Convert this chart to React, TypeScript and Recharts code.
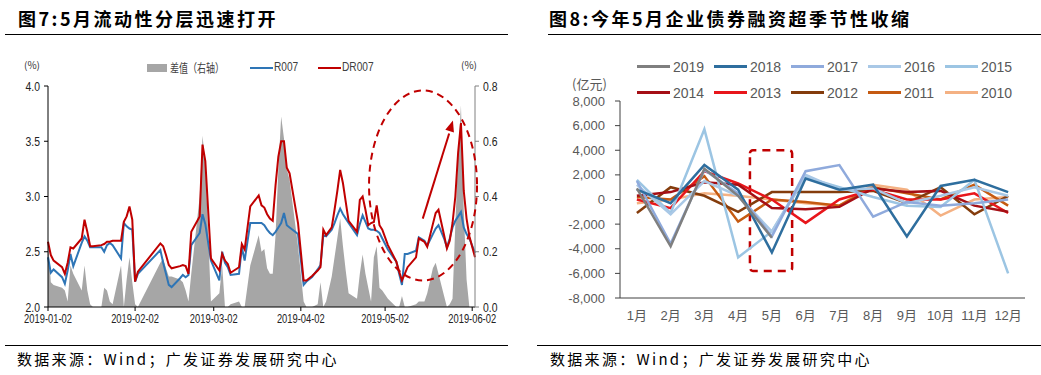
import React from 'react'
import {
  ComposedChart, LineChart, Line, Area, XAxis, YAxis,
  ReferenceDot, ReferenceLine, ReferenceArea,
} from 'recharts'

// ---------- 图7: 日度数据, x = 距 2019-01-02 的天数 ----------
const dayOffsets = [
  0, 1, 2, 5, 6, 7, 8, 9, 12, 13, 14, 15, 16, 19, 20, 21, 22, 23, 26, 27, 28, 29, 30, 31, 32,
  40, 41, 42, 43, 44, 47, 48, 49, 50, 51, 54, 55, 56, 58, 61, 62, 63, 64, 65, 68, 69, 70, 72,
  75, 76, 77, 78, 79, 80, 81, 82, 83, 84, 85, 86, 89, 91, 92, 94, 96, 97, 98, 99, 101, 102,
  103, 104, 105, 106, 107, 110, 111, 112, 113, 114, 115, 116, 117, 118, 119, 121, 124, 125,
  126, 127, 128, 131, 132, 134, 135, 137, 138, 139, 141, 142, 143, 144, 145, 146, 147, 148,
  149, 150, 152,
]
const dr007 = [
  2.59, 2.47, 2.42, 2.36, 2.30, 2.40, 2.54, 2.53, 2.62, 2.79, 2.68, 2.55, 2.55, 2.56, 2.57, 2.59, 2.59, 2.60, 2.60, 2.77, 2.82, 2.91, 2.79, 2.23, 2.32,
  2.575, 2.55, 2.47, 2.38, 2.35, 2.37, 2.38, 2.37, 2.30, 2.68, 2.82, 3.47, 3.32, 2.44, 2.33, 2.48, 2.42, 2.39, 2.31, 2.36, 2.57, 2.52, 2.91,
  3.01, 2.92, 2.90, 2.84, 2.80, 2.78, 3.10, 3.36, 3.50, 3.50, 3.26, 3.21, 2.76, 2.24, 2.24, 2.28, 2.33, 2.36, 2.70, 2.65, 2.72, 2.88,
  3.05, 3.24, 3.12, 2.95, 2.78, 2.68, 2.97, 3.00, 2.88, 2.74, 2.76, 2.77, 2.92, 2.74, 2.70, 2.56, 2.41, 2.32,
  2.24, 2.30, 2.36, 2.45, 2.62, 2.59, 2.545, 2.75, 2.85, 2.88, 2.65, 2.53, 2.60, 2.76, 3.00, 3.40, 3.665, 3.05,
  2.80, 2.64, 2.45,
]
const r007 = [
  2.45, 2.31, 2.34, 2.27, 2.21, 2.33, 2.48, 2.37, 2.58, 2.64, 2.60, 2.54, 2.54, 2.54, 2.50, 2.56, 2.58, 2.56, 2.44, 2.76, 2.73, 2.71, 2.70, 2.23, 2.30,
  2.515, 2.40, 2.30, 2.20, 2.18, 2.26, 2.29, 2.27, 2.29, 2.56, 2.67, 2.84, 2.75, 2.42, 2.24, 2.50, 2.40, 2.36, 2.29, 2.30, 2.54, 2.42, 2.76,
  2.76, 2.76, 2.74, 2.70, 2.67, 2.65, 2.68, 2.72, 2.76, 2.85, 2.74, 2.72, 2.66, 2.20, 2.23, 2.27, 2.34, 2.38, 2.65, 2.64, 2.70, 2.76,
  2.83, 2.89, 2.84, 2.80, 2.76, 2.65, 2.75, 2.83, 2.77, 2.71, 2.70, 2.70, 2.69, 2.67, 2.62, 2.52, 2.41, 2.30,
  2.20, 2.48, 2.48, 2.51, 2.63, 2.60, 2.555, 2.66, 2.71, 2.74, 2.62, 2.54, 2.62, 2.72, 2.78, 2.82, 2.86, 2.72,
  2.66, 2.62, 2.49,
]
const spread = [
  0.24, 0.09, 0.08, 0.07, 0.06, 0.02, 0.15, 0.12, 0.06, 0.15, 0.06, 0.01, 0.0, 0.0, 0.07, 0.06, 0.02, 0.01, 0.15, 0.0, 0.10, 0.18, 0.09, 0.01, 0.0,
  0.16, 0.175, 0.14, 0.11, 0.11, 0.10, 0.09, 0.06, 0.02, 0.12, 0.40, 0.62, 0.52, 0.02, 0.05, 0.15, 0.0, 0.0, 0.01, 0.02, 0.0, 0.0, 0.15,
  0.26, 0.20, 0.21, 0.14, 0.12, 0.12, 0.26, 0.50, 0.69, 0.61, 0.50, 0.46, 0.22, 0.02, 0.0, 0.0, 0.01, 0.09, 0.0, 0.02, 0.11, 0.18,
  0.25, 0.32, 0.22, 0.13, 0.05, 0.03, 0.12, 0.19, 0.12, 0.07, 0.02, 0.18, 0.22, 0.07, 0.06, 0.03, 0.0, 0.0,
  0.04, 0.0, 0.0, 0.01, 0.02, 0.02, 0.05, 0.14, 0.16, 0.12, 0.04, 0.0, 0.01, 0.03, 0.30, 0.55, 0.73, 0.35,
  0.10, 0.0, 0.0,
]
const dateTicks = [0, 31, 59, 90, 120, 151]
const dateLabels = ['2019-01-02', '2019-02-02', '2019-03-02', '2019-04-02', '2019-05-02', '2019-06-02']
const rateTicks = [2.0, 2.5, 3.0, 3.5, 4.0]
const spreadTicks = [0, 0.2, 0.4, 0.6, 0.8]

const liquidity = dayOffsets.map((d, i) => ({ d, r007: r007[i], dr007: dr007[i], spread: spread[i] }))

// ---------- 图8: 月度企业债券融资同比变化 (亿元) ----------
const months = [1, 2, 3, 4, 5, 6, 7, 8, 9, 10, 11, 12]
const years = ['2019', '2018', '2017', '2016', '2015', '2014', '2013', '2012', '2011', '2010']
const yearColors = ['#7f7f7f', '#2e6e9e', '#8faadc', '#a9c8e6', '#9cc5e3', '#a50f15', '#e8161b', '#843c0c', '#c55a11', '#f4b183']
const y2019 = [900, -3800, 2500, 300, -3100, null, null, null, null, null, null, null]
const y2018 = [800, -300, 2800, 800, -4300, 1700, 800, 1200, -3000, 1100, 1600, 600]
const y2017 = [1500, -3600, 2400, 500, -3000, 2300, 2800, -1400, -200, -500, -300, 0]
const y2016 = [1200, -1200, 1500, 300, -2600, 2000, 800, 900, -300, 300, 1000, 300]
const y2015 = [1600, -1100, 5700, -4700, -2600, 1800, 1000, 200, -500, -600, 1600, -6000]
const y2014 = [300, 600, 1400, 1200, -700, -800, -600, 900, 600, 700, -500, -1000]
const y2013 = [0, -700, 2300, 1300, 0, -1900, 0, 800, 0, 0, 500, -1100]
const y2012 = [-1100, 1000, 300, -1000, 600, 600, 600, 700, -300, 1000, -1200, 300]
const y2011 = [200, 0, 1900, -1800, 0, -200, -500, 1000, 500, 0, 1200, -500]
const y2010 = [-300, 0, 500, 300, 0, -300, -500, 1200, 800, -1300, 0, 200]
const yearSeries = [y2019, y2018, y2017, y2016, y2015, y2014, y2013, y2012, y2011, y2010]
const bondTicks = [-8000, -6000, -4000, -2000, 0, 2000, 4000, 6000, 8000]
const monthEdges = [0.5, 1.5, 2.5, 3.5, 4.5, 5.5, 6.5, 7.5, 8.5, 9.5, 10.5, 11.5, 12.5]

const bonds = months.map((m, i) => {
  const row: Record<string, number | null> = { m }
  years.forEach((y, k) => { row[y] = yearSeries[k][i] })
  return row
})

const CJK = '"Noto Sans CJK SC", "Noto Sans", sans-serif'
const ARIAL = '"Liberation Sans", Arial, ' + CJK
const RED = '#c00000'

const titleStyle: React.CSSProperties = {
  position: 'absolute', top: 5, fontFamily: CJK, fontWeight: 700, fontSize: 18,
  letterSpacing: 2.5, color: '#000', whiteSpace: 'nowrap',
}
const sourceStyle: React.CSSProperties = {
  position: 'absolute', top: 348, fontFamily: CJK, fontSize: 15, letterSpacing: 2.3,
  color: '#000', whiteSpace: 'nowrap',
}
const rule = (left: number, top: number, width: number): React.CSSProperties => ({
  position: 'absolute', left, top, width, height: 0, borderTop: '1.5px solid #000',
})

// narrow (Arial Narrow look) tick text, squeezed horizontally
function NarrowTick(props: any) {
  const { x, y, payload, textAnchor, fmt, dy, sx } = props
  return (
    <text
      x={0} y={0} dy={dy} transform={`translate(${x},${y}) scale(${sx},1)`}
      textAnchor={textAnchor} fontSize={13} fill="#222" fontFamily={ARIAL}
    >
      {fmt(payload.value)}
    </text>
  )
}

const narrow = (left: number, top: number, text: string, size = 13, sx = 0.78): React.ReactNode => (
  <span style={{
    position: 'absolute', left, top, fontFamily: ARIAL, fontSize: size, color: '#404040',
    transform: `scaleX(${sx})`, transformOrigin: 'left center', whiteSpace: 'nowrap',
  }}>{text}</span>
)

function LiquidityChart() {
  return (
    <div style={{ position: 'absolute', left: 0, top: 0 }}>
      <div style={{ position: 'absolute', left: 24, top: 57, fontFamily: CJK, fontSize: 10, color: '#333' }}>(%)</div>
      <div style={{ position: 'absolute', left: 461, top: 57, fontFamily: CJK, fontSize: 10, color: '#333' }}>(%)</div>
      <span style={{ position: 'absolute', left: 147, top: 64, width: 20, height: 8, background: '#a6a6a6' }} />
      <span style={{
        position: 'absolute', left: 170, top: 59, fontFamily: CJK, fontSize: 12, color: '#404040',
        transform: 'scaleX(0.75)', transformOrigin: 'left center', whiteSpace: 'nowrap',
      }}>差值（右轴）</span>
      <span style={{ position: 'absolute', left: 250, top: 67, width: 23, height: 2, background: '#2e75b6' }} />
      {narrow(274, 59, 'R007')}
      <span style={{ position: 'absolute', left: 318, top: 67, width: 23, height: 2, background: RED }} />
      {narrow(342, 59, 'DR007')}
      <ComposedChart width={520} height={340} data={liquidity} margin={{ top: 86, right: 5, left: 8, bottom: 8 }}>
        <XAxis
          dataKey="d" type="number" domain={[0, 152]} ticks={dateTicks}
          tick={<NarrowTick dy="0.71em" sx={0.72} fmt={(v: number) => dateLabels[dateTicks.indexOf(v)] ?? ''} />}
          axisLine={{ stroke: '#000' }} tickLine={{ stroke: '#000' }} tickSize={4} tickMargin={3} height={25}
        />
        <YAxis
          yAxisId="left" domain={[2, 4]} ticks={rateTicks}
          tick={<NarrowTick dy="0.355em" sx={0.8} fmt={(v: number) => v.toFixed(1)} />} width={40}
          axisLine={{ stroke: '#000' }} tickLine={{ stroke: '#000' }} tickSize={4} tickMargin={4}
        />
        <YAxis
          yAxisId="right" orientation="right" domain={[0, 0.8]} ticks={spreadTicks}
          tick={<NarrowTick dy="0.355em" sx={0.8} fmt={(v: number) => v.toFixed(1)} />} width={40}
          axisLine={{ stroke: '#808080' }} tickLine={{ stroke: '#808080' }} tickSize={4} tickMargin={4}
        />
        <Area yAxisId="right" dataKey="spread" type="linear" fill="#a6a6a6" fillOpacity={1} stroke="none" isAnimationActive={false} />
        <Line yAxisId="left" dataKey="r007" type="linear" stroke="#2e75b6" strokeWidth={2} dot={false} isAnimationActive={false} />
        <Line yAxisId="left" dataKey="dr007" type="linear" stroke={RED} strokeWidth={2} dot={false} isAnimationActive={false} />
        <ReferenceDot
          yAxisId="left" x={133.5} y={3.1}
          shape={(p: any) => (
            <ellipse cx={p.cx} cy={p.cy} rx={54} ry={95} fill="none" stroke={RED} strokeWidth={2} strokeDasharray="7 5" />
          )}
        />
        <ReferenceLine yAxisId="left" segment={[{ x: 133.4, y: 2.8 }, { x: 142.8, y: 3.57 }]} stroke={RED} strokeWidth={2} />
        <ReferenceDot
          yAxisId="left" x={143.5} y={3.635}
          shape={(p: any) => (
            <polygon points="0,-6 4.5,5 -4.5,5" transform={`translate(${p.cx},${p.cy}) rotate(17.4)`} fill={RED} />
          )}
        />
      </ComposedChart>
    </div>
  )
}

function BondChart() {
  return (
    <div style={{ position: 'absolute', left: 530, top: 0 }}>
      <div style={{ position: 'absolute', left: 42, top: 74, fontFamily: CJK, fontSize: 13, color: '#595959' }}>(亿元)</div>
      <div style={{ position: 'absolute', left: 107, top: 57, display: 'grid', gridTemplateColumns: 'repeat(5, 77px)', rowGap: 7 }}>
        {years.map((y, k) => (
          <div key={y} style={{ display: 'flex', alignItems: 'center', height: 19 }}>
            <span style={{ width: 33, height: 3, background: yearColors[k], display: 'inline-block' }} />
            <span style={{ fontFamily: ARIAL, fontSize: 14, color: '#595959', marginLeft: 3 }}>{y}</span>
          </div>
        ))}
      </div>
      <LineChart width={511} height={340} data={bonds} margin={{ top: 101, right: 16, left: 10, bottom: 7 }}>
        <XAxis
          xAxisId="edge" type="number" domain={[0.5, 12.5]} ticks={monthEdges} tick={false}
          axisLine={{ stroke: '#404040' }} tickLine={{ stroke: '#404040' }} tickSize={5} height={5}
        />
        <XAxis
          xAxisId="m" dataKey="m" type="number" domain={[0.5, 12.5]} ticks={months}
          tickFormatter={(v: number) => `${v}月`} axisLine={false} tickLine={false} height={30}
          tick={{ fontSize: 13, fill: '#595959', fontFamily: ARIAL }}
        />
        <YAxis
          domain={[-8000, 8000]} ticks={bondTicks} tickFormatter={(v: number) => v.toLocaleString('en-US')}
          tick={{ fontSize: 13, fill: '#595959', fontFamily: ARIAL }} width={80}
          axisLine={{ stroke: '#404040' }} tickLine={{ stroke: '#404040' }} tickSize={5} tickMargin={10}
        />
        {years.slice().reverse().map((y) => (
          <Line
            key={y} xAxisId="m" dataKey={y} type="linear" stroke={yearColors[years.indexOf(y)]}
            strokeWidth={2.5} dot={false} connectNulls={false} isAnimationActive={false}
          />
        ))}
        <ReferenceArea
          xAxisId="m" x1={4.35} x2={5.6} y1={4000} y2={-5800}
          fill="none" stroke={RED} strokeWidth={2.5} strokeDasharray="8 6" radius={3}
        />
      </LineChart>
    </div>
  )
}

export default function App() {
  return (
    <div style={{ position: 'absolute', left: 0, top: 0, width: 1041, height: 375, background: '#fff', overflow: 'hidden' }}>
      <div style={{ ...titleStyle, left: 18 }}>图7:5月流动性分层迅速打开</div>
      <div style={rule(5, 34, 503)} />
      <div style={{ ...titleStyle, left: 549 }}>图8:今年5月企业债券融资超季节性收缩</div>
      <div style={rule(548, 34, 493)} />
      <LiquidityChart />
      <BondChart />
      <div style={rule(5, 345, 503)} />
      <div style={{ ...sourceStyle, left: 17 }}>数据来源：Wind；广发证券发展研究中心</div>
      <div style={rule(537, 345, 504)} />
      <div style={{ ...sourceStyle, left: 550 }}>数据来源：Wind；广发证券发展研究中心</div>
    </div>
  )
}
